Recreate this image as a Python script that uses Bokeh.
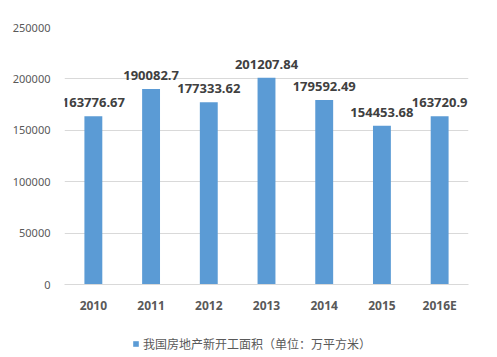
from bokeh.plotting import figure
from bokeh.layouts import column
from bokeh.core.properties import value
from bokeh.models import ColumnDataSource, Range1d, FactorRange, LabelSet, Legend, LegendItem, NumeralTickFormatter
from bokeh.embed import file_html
from bokeh.resources import INLINE

years = ["2010", "2011", "2012", "2013", "2014", "2015", "2016E"]
values = [163776.67, 190082.7, 177333.62, 201207.84, 179592.49, 154453.68, 163720.9]
value_labels = ["163776.67", "190082.7", "177333.62", "201207.84", "179592.49", "154453.68", "163720.9"]
series_name = "我国房地产新开工面积（单位：万平方米）"

src = ColumnDataSource(dict(x=years, y=values, lab=value_labels))

p = figure(width=497, height=322, x_range=FactorRange(*years, range_padding=0),
           y_range=Range1d(0, 250000), output_backend="svg", toolbar_location=None,
           min_border_left=64, min_border_right=29, min_border_top=27, min_border_bottom=38)
p.outline_line_color = None
p.border_fill_color = "white"

r = p.vbar(x="x", top="y", width=0.31, source=src, color="#5b9bd5", line_color=None)

labels = LabelSet(x="x", y="y", text="lab", source=src, text_align="center", text_baseline="bottom",
                  y_offset=9, text_font_size=value("13px"), text_font_style="bold", text_color="#404040",
                  text_font=value("Noto Sans"))
p.add_layout(labels)

p.yaxis.ticker = [0, 50000, 100000, 150000, 200000, 250000]
p.yaxis.formatter = NumeralTickFormatter(format="0")
p.yaxis.axis_line_color = None
p.yaxis.major_tick_line_color = None
p.yaxis.minor_tick_line_color = None
p.yaxis.major_label_text_font_size = "11px"
p.yaxis.major_label_text_color = "#595959"
p.yaxis.major_label_text_font = "Noto Sans"
p.yaxis.major_label_standoff = 8

p.xaxis.axis_line_color = "#d9d9d9"
p.xaxis.major_tick_line_color = None
p.xaxis.minor_tick_line_color = None
p.xaxis.major_label_text_font_size = "12px"
p.xaxis.major_label_text_font_style = "bold"
p.xaxis.major_label_text_color = "#595959"
p.xaxis.major_label_text_font = "Noto Sans"
p.xaxis.major_label_standoff = 6

p.xgrid.grid_line_color = None
p.ygrid.grid_line_color = "#d9d9d9"

# legend strip (same series, its bars fall entirely outside this strip's view)
lf = figure(width=497, height=35, x_range=FactorRange(*years, range_padding=0),
            y_range=Range1d(1e7, 2e7),
            output_backend="svg", toolbar_location=None, x_axis_type=None, y_axis_type=None,
            min_border=0)
lf.outline_line_color = None
lf.xgrid.grid_line_color = None
lf.ygrid.grid_line_color = None
lr = lf.vbar(x="x", top="y", width=0.31, source=src, color="#5b9bd5", line_color=None)

legend = Legend(items=[LegendItem(label=series_name, renderers=[lr])], location=(68, 5),
                orientation="horizontal", border_line_color=None, background_fill_alpha=0,
                label_text_font_size="12px", label_text_color="#595959",
                label_text_font="Noto Sans CJK SC", glyph_width=7, glyph_height=7,
                label_standoff=4, margin=0, padding=2)
lf.add_layout(legend, "center")

layout = column(p, lf, spacing=0)
open("out.html", "w").write(file_html(layout, INLINE))
